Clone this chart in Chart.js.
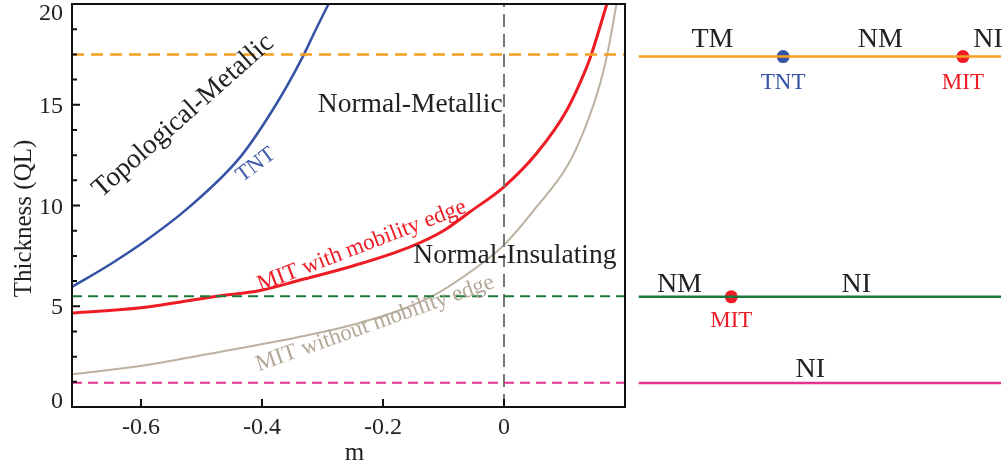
<!DOCTYPE html>
<html><head><meta charset="utf-8">
<script src="https://cdn.jsdelivr.net/npm/chart.js@4.4.1/dist/chart.umd.min.js"></script>
<style>
html,body{margin:0;padding:0;background:#fff;overflow:hidden}
#wrap{position:relative;width:1008px;height:467px}
#c1{position:absolute;left:0;top:0}
#c2{position:absolute;left:632px;top:0}
</style></head><body>
<div id="wrap">
<canvas id="c1" width="632" height="467"></canvas>
<canvas id="c2" width="376" height="467"></canvas>
</div>
<script>
// ---------- data ----------
const mRange = [-0.714, 0.2];
const thickRange = [0, 20];
const xTicks = [-0.6, -0.4, -0.2, 0];
const xTickLabels = ['-0.6', '-0.4', '-0.2', '0'];
const yTicks = [0, 5, 10, 15, 20];
const yTickLabels = ['0', '5', '10', '15', '20'];
const yMinorTicks = [1.25, 2.5, 3.75, 6.25, 7.5, 8.75, 11.25, 12.5, 13.75, 16.25, 17.5, 18.75];

const tntM = [-0.714, -0.65, -0.59, -0.52, -0.436, -0.375, -0.334, -0.31, -0.29];
const tntT = [5.96, 7.1, 8.3, 9.93, 12.4, 15.1, 17.3, 18.8, 20];

const mitM = [-0.714, -0.6, -0.474, -0.403, -0.337, -0.25, -0.155, -0.1, -0.056, 0, 0.054, 0.104, 0.137, 0.145, 0.170];
const mitT = [4.67, 4.92, 5.5, 5.78, 6.3, 7.0, 7.95, 8.75, 9.69, 10.93, 12.59, 14.74, 16.89, 17.55, 20];

const mit0M = [-0.714, -0.602, -0.453, -0.343, -0.232, -0.122, -0.04, 0, 0.054, 0.104, 0.137, 0.159, 0.171, 0.186];
const mit0T = [1.62, 2.03, 2.83, 3.45, 4.23, 5.45, 7.05, 8.04, 9.94, 11.93, 14.08, 16.06, 17.55, 20];

const levels = [17.5, 5.5, 1.2];          // orange, green, pink thickness cuts
const criticalM = 0;                      // vertical dashed line

const regionText = ['Topological-Metallic', 'TNT', 'Normal-Metallic', 'MIT with mobility edge', 'Normal-Insulating', 'MIT without mobility edge'];
const regionM = [-0.530, -0.410, -0.155, -0.235, 0.018, -0.213];
const regionT = [14.44, 12.01, 14.64, 7.99, 7.15, 4.14];
const regionAngle = [-41.5, -37, 0, -21, 0, -19.5];

// right schematic (position along each cut, 0..1)
const transName = ['TNT', 'MIT', 'MIT'];
const transPos = [0.399, 0.895, 0.256];
const transLevel = [17.5, 17.5, 5.5];
const phaseName = ['TM', 'NM', 'NI', 'NM', 'NI', 'NI'];
const phasePos = [0.204, 0.667, 0.964, 0.113, 0.601, 0.474];
const phaseLevel = [17.5, 17.5, 17.5, 5.5, 5.5, 1.2];

// ---------- styles ----------
const FONT = '"Liberation Serif", "Times New Roman", serif';
const cBlue = '#3553a5', cRed = '#ee1c24', cTan = '#bcb1a2';
const levelColors = ['#f5a020', '#1b7a3a', '#e5318f'];
const regionColor = ['#222', '#3f5aa8', '#222', '#ee1c24', '#222', '#b3a897'];
const regionSize = [27.5, 22, 27.5, 23, 27.5, 23];
const transColor = { TNT: cBlue, MIT: cRed };

const pts = (xs, ys) => xs.map((v, i) => ({ x: v, y: ys[i] }));

const frame = {
  id: 'frame',
  afterDatasetsDraw(chart) {
    const { ctx, chartArea: a, scales: { x, y } } = chart;
    ctx.save();
    ctx.strokeStyle = '#111'; ctx.lineWidth = 2;
    ctx.strokeRect(a.left, a.top, a.right - a.left, a.bottom - a.top);
    ctx.beginPath();
    yTicks.forEach(v => { const p = y.getPixelForValue(v); ctx.moveTo(a.left, p); ctx.lineTo(a.left + 8, p); });
    yMinorTicks.forEach(v => { const p = y.getPixelForValue(v); ctx.moveTo(a.left, p); ctx.lineTo(a.left + 5, p); });
    xTicks.forEach(v => { const p = x.getPixelForValue(v); ctx.moveTo(p, a.bottom); ctx.lineTo(p, a.bottom - 8); });
    ctx.stroke();

    ctx.fillStyle = '#222';
    ctx.font = '24px ' + FONT;
    ctx.textAlign = 'right'; ctx.textBaseline = 'alphabetic';
    yTicks.forEach((v, i) => {
      let b = y.getPixelForValue(v) + 8;
      b = Math.min(Math.max(b, a.top + 16), a.bottom + 1);
      ctx.fillText(yTickLabels[i], a.left - 9, b);
    });
    ctx.textAlign = 'center';
    xTicks.forEach((v, i) => ctx.fillText(xTickLabels[i], x.getPixelForValue(v), a.bottom + 27));

    // axis titles
    ctx.font = '25px ' + FONT;
    ctx.fillText('m', (a.left + a.right) / 2 + 6, a.bottom + 53);
    ctx.save();
    ctx.translate(a.left - 41, (a.top + a.bottom) / 2 + 13);
    ctx.rotate(-Math.PI / 2);
    ctx.fillText('Thickness (QL)', 0, 0);
    ctx.restore();

    // region labels
    regionText.forEach((t, i) => {
      ctx.save();
      ctx.translate(x.getPixelForValue(regionM[i]), y.getPixelForValue(regionT[i]));
      ctx.rotate(regionAngle[i] * Math.PI / 180);
      ctx.fillStyle = regionColor[i];
      ctx.font = regionSize[i] + 'px ' + FONT;
      ctx.textAlign = 'center';
      ctx.textBaseline = regionAngle[i] === 0 ? 'alphabetic' : 'middle';
      ctx.fillText(t, 0, 0);
      ctx.restore();
    });
    ctx.restore();
  }
};

new Chart(document.getElementById('c1'), {
  type: 'line',
  data: {
    datasets: [
      ...levels.map((lv, i) => ({
        data: pts(mRange, [lv, lv]), borderColor: levelColors[i], borderWidth: i === 0 ? 2.5 : 2,
        borderDash: i === 0 ? [12, 7] : [10, 6], pointRadius: 0
      })),
      { data: pts([criticalM, criticalM], thickRange), borderColor: '#777', borderWidth: 2, borderDash: [13, 7], pointRadius: 0 },
      { data: pts(mit0M, mit0T), borderColor: cTan, borderWidth: 2, pointRadius: 0, cubicInterpolationMode: 'monotone' },
      { data: pts(mitM, mitT), borderColor: cRed, borderWidth: 3, pointRadius: 0, cubicInterpolationMode: 'monotone' },
      { data: pts(tntM, tntT), borderColor: cBlue, borderWidth: 2.5, pointRadius: 0, cubicInterpolationMode: 'monotone' }
    ]
  },
  options: {
    responsive: false, animation: false, devicePixelRatio: 1,
    layout: { padding: { left: 0, top: 4, right: 7, bottom: 0 } },
    plugins: { legend: { display: false }, tooltip: { enabled: false } },
    scales: {
      x: { type: 'linear', min: mRange[0], max: mRange[1], grid: { display: false }, border: { display: false },
           ticks: { display: false }, afterFit: s => { s.height = 60; } },
      y: { type: 'linear', min: thickRange[0], max: thickRange[1], grid: { display: false }, border: { display: false },
           ticks: { display: false }, afterFit: s => { s.width = 72; } }
    }
  },
  plugins: [frame]
});

const schematic = {
  id: 'schematic',
  afterDatasetsDraw(chart) {
    const { ctx, scales: { x, y } } = chart;
    ctx.save();
    ctx.textAlign = 'center'; ctx.textBaseline = 'alphabetic';
    ctx.fillStyle = '#222';
    ctx.font = '28px ' + FONT;
    phaseName.forEach((t, i) => {
      const dy = phaseLevel[i] > 10 ? -10 : (phaseLevel[i] > 3 ? -5 : -6);
      ctx.fillText(t, x.getPixelForValue(phasePos[i]), y.getPixelForValue(phaseLevel[i]) + dy);
    });
    ctx.font = '23px ' + FONT;
    transName.forEach((t, i) => {
      ctx.fillStyle = transColor[t];
      const dy = transLevel[i] > 10 ? 32 : 30;
      ctx.fillText(t, x.getPixelForValue(transPos[i]), y.getPixelForValue(transLevel[i]) + dy);
    });
    ctx.restore();
  }
};

new Chart(document.getElementById('c2'), {
  type: 'line',
  data: {
    datasets: [
      ...levels.map((lv, i) => ({
        data: pts([0, 1], [lv, lv]), borderColor: levelColors[i], borderWidth: 2.5, pointRadius: 0
      })),
      { type: 'scatter', data: pts(transPos, transLevel), pointRadius: 6.5, pointHoverRadius: 6.5,
        backgroundColor: transName.map(t => transColor[t]), borderWidth: 0 }
    ]
  },
  options: {
    responsive: false, animation: false, devicePixelRatio: 1,
    layout: { padding: { left: 6, top: 4, right: 7, bottom: 60 } },
    plugins: { legend: { display: false }, tooltip: { enabled: false } },
    scales: {
      x: { type: 'linear', min: 0, max: 1, display: false },
      y: { type: 'linear', min: thickRange[0], max: thickRange[1], display: false }
    }
  },
  plugins: [schematic]
});
</script>
</body></html>
